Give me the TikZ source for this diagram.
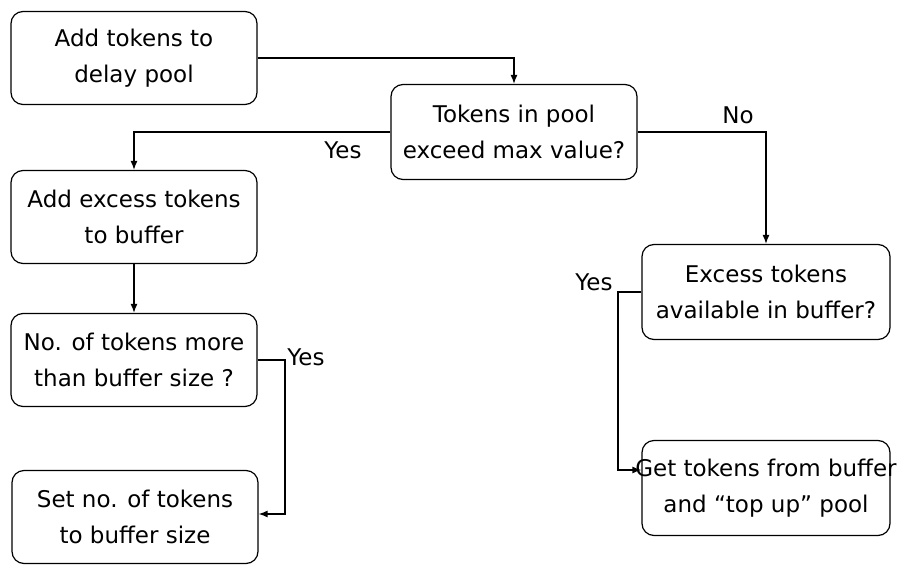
\documentclass[tikz,border=0pt]{standalone}
\usepackage{fontspec}
\setmainfont{DejaVu Sans}
\usetikzlibrary{arrows.meta}
\begin{document}
\begin{tikzpicture}[x=1pt,y=-1pt,
  stepbox/.style={draw,line width=1.2pt,rounded corners=12pt,inner sep=0pt,
    minimum width=246pt,minimum height=93pt,align=center,
    font=\fontsize{23}{36}\selectfont},
  conn/.style={line width=1.3pt,-{Latex[length=9pt,width=7pt]}},
  lbl/.style={font=\fontsize{23}{28}\selectfont,inner sep=0pt}]
\useasboundingbox (0,0) rectangle (898,565);

% process and decision boxes
\node[stepbox] (b1) at (134,58)  {Add tokens to\\delay pool};
\node[stepbox,minimum height=95pt] (b2) at (514,132) {Tokens in pool\\exceed max value?};
\node[stepbox] (b3) at (134,217) {Add excess tokens\\to buffer};
\node[stepbox,minimum width=248pt,minimum height=95pt] (b4) at (766,292) {Excess tokens\\available in buffer?};
\node[stepbox] (b5) at (134,360) {No. of tokens more\\than buffer size ?};
\node[stepbox] (b6) at (135,517) {Set no. of tokens\\to buffer size};
% the first line is wider than the box and spills over both sides
\node[stepbox,minimum width=248pt,minimum height=95pt] (b7) at (766,488)
  {\makebox[230pt]{Get tokens from buffer}\\and ``top up'' pool};

% bend points of the side branches
\coordinate (c1) at (285,360);
\coordinate (c2) at (618,292);

% connectors
\draw[conn] (b1.east) -| (b2.north);
\draw[conn] (b2.west) -| (b3.north);
\draw[conn] (b2.east) -| (b4.north);
\draw[conn] (b3.south) -- (b5.north);
\draw[conn] (b5.east) -- (c1) |- ([yshift=3pt]b6.east);
\draw[conn] (b4.west) -- (c2) |- ([yshift=18pt]b7.west);

% branch labels
\node[lbl] (y1) at (343,150) {Yes};
\node[lbl] (n1) at (738,115) {No};
\node[lbl] (y2) at (306,357) {Yes};
\node[lbl] (y3) at (594,282) {Yes};
\end{tikzpicture}
\end{document}
